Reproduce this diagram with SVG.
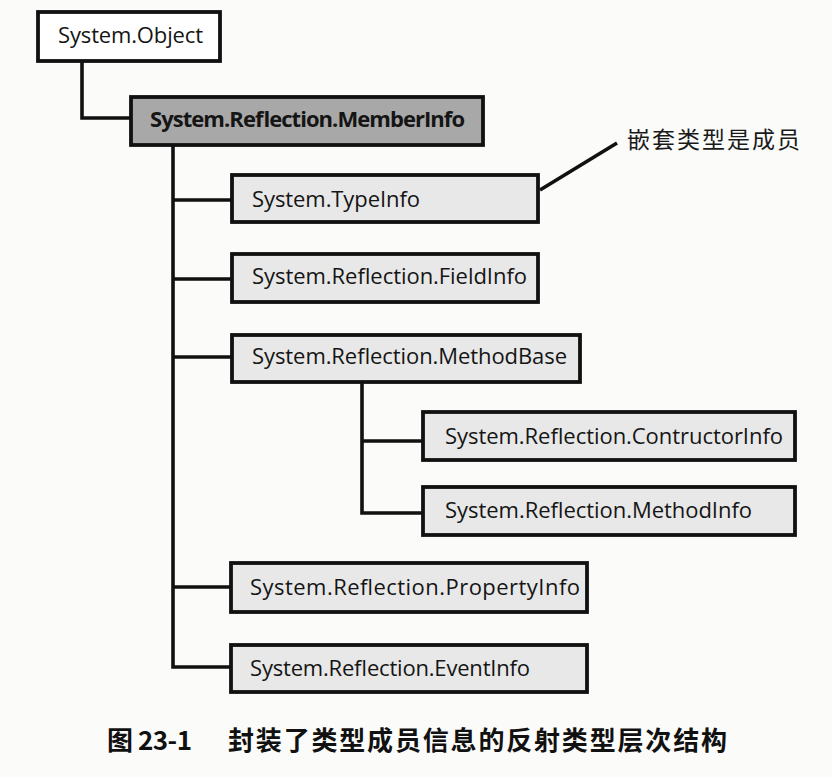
<svg xmlns="http://www.w3.org/2000/svg" width="832" height="777" viewBox="0 0 832 777">
<style>
.box{stroke:#111;stroke-width:3.8;fill:#e8e8e8}
.root{fill:#ffffff}
.dark{fill:#a8a8a8}
.lbl{font-family:"Open Sans","Noto Sans","Liberation Sans",sans-serif;font-size:22px;fill:#151515}
.bold{font-weight:bold}
.wire{stroke:#111;stroke-width:3.6;fill:none}
.cap{font-family:"Noto Sans CJK SC","Noto Sans",sans-serif;font-size:26px;font-weight:bold;fill:#111}
.note{font-family:"Noto Sans CJK SC","Noto Sans",sans-serif;font-size:23px;fill:#1a1a1a}
</style>
<rect width="832" height="777" fill="#fbfbfa"/>
<g id="connectors">
<path class="wire" d="M82,61 V118 H131"/>
<path class="wire" d="M173,145 V667 H231 M173,200 H232 M173,279 H232 M173,357 H232 M173,587 H231"/>
<path class="wire" d="M362,382 V513 H423 M362,441 H423"/>
<path class="wire" d="M540,190 L617,143"/>
</g>
<g id="node-object">
<rect class="box root" x="38" y="12" width="182" height="49"/>
<text class="lbl" x="58" y="43" textLength="145">System.Object</text>
</g>
<g id="node-memberinfo">
<rect class="box dark" x="131" y="97" width="352" height="48"/>
<text class="lbl bold" x="150" y="127" textLength="315">System.Reflection.MemberInfo</text>
</g>
<g id="node-typeinfo">
<rect class="box" x="232" y="175" width="306" height="47"/>
<text class="lbl" x="252" y="207" textLength="168">System.TypeInfo</text>
</g>
<g id="node-fieldinfo">
<rect class="box" x="232" y="254" width="306" height="48"/>
<text class="lbl" x="252" y="284" textLength="275">System.Reflection.FieldInfo</text>
</g>
<g id="node-methodbase">
<rect class="box" x="232" y="335" width="348" height="47"/>
<text class="lbl" x="252" y="364" textLength="315">System.Reflection.MethodBase</text>
</g>
<g id="node-constructorinfo">
<rect class="box" x="423" y="412" width="372" height="48"/>
<text class="lbl" x="445" y="444" textLength="338">System.Reflection.ContructorInfo</text>
</g>
<g id="node-methodinfo">
<rect class="box" x="423" y="487" width="372" height="48"/>
<text class="lbl" x="445" y="518" textLength="307">System.Reflection.MethodInfo</text>
</g>
<g id="node-propertyinfo">
<rect class="box" x="231" y="563" width="356" height="49"/>
<text class="lbl" x="250" y="595" textLength="330">System.Reflection.PropertyInfo</text>
</g>
<g id="node-eventinfo">
<rect class="box" x="231" y="645" width="356" height="47"/>
<text class="lbl" x="250" y="676" textLength="280">System.Reflection.EventInfo</text>
</g>
<g id="note">
<text class="note" x="627" y="148" textLength="173">嵌套类型是成员</text>
</g>
<g id="caption">
<text class="cap" x="107" y="750" textLength="85">图 23-1</text>
<text class="cap" x="228" y="750" textLength="499">封装了类型成员信息的反射类型层次结构</text>
</g>
</svg>
